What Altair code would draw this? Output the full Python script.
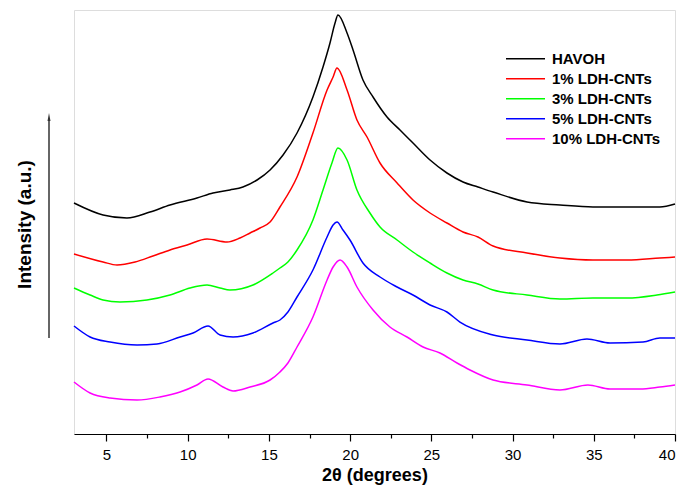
import altair as alt
import pandas as pd

series_names = ["HAVOH", "1% LDH-CNTs", "3% LDH-CNTs", "5% LDH-CNTs", "10% LDH-CNTs"]
series_colors = ["#000000", "#ff0000", "#00ff00", "#0000ff", "#ff00ff"]

havoh_2theta = [3.00, 4.79, 6.26, 7.68, 8.91, 10.57, 11.56, 12.60, 13.40, 14.27, 15.07, 15.87,
                16.73, 17.71, 18.33, 18.76, 19.07, 19.25, 19.81, 20.18, 20.79, 21.41, 22.27,
                23.07, 23.87, 24.92, 25.96, 26.95, 27.87, 28.80, 30.89, 32.92, 34.95, 37.05,
                39.07, 40.00]
havoh_intensity = [231, 219, 216, 222, 229, 236, 241, 244, 247, 254, 264, 279,
                   301, 337, 367, 391, 411, 419, 401, 384, 354, 337, 317,
                   304, 291, 274, 261, 252, 247, 242, 232, 229, 227, 227,
                   227, 230]

ldh1_2theta = [3.00, 4.79, 5.65, 6.76, 7.86, 8.91, 9.96, 11.19, 12.42, 13.22, 13.84, 14.45,
               15.07, 15.68, 16.73, 17.71, 18.58, 18.95, 19.19, 19.81, 20.42, 21.04, 21.84,
               22.89, 23.87, 24.92, 25.96, 26.95, 27.87, 28.80, 30.89, 32.92, 34.95, 37.05,
               39.07, 40.00]
ldh1_intensity = [180, 172, 169, 172, 178, 184, 189, 195, 192, 196, 201, 206,
                  212, 227, 257, 301, 344, 357, 366, 344, 314, 297, 271,
                  251, 234, 221, 211, 202, 197, 188, 181, 176, 174, 174,
                  176, 177]

ldh3_2theta = [3.00, 3.99, 4.79, 5.83, 7.49, 8.91, 10.14, 11.19, 11.99, 12.60, 14.02, 15.25,
               15.68, 16.17, 16.73, 17.71, 18.33, 18.88, 19.25, 19.81, 20.42, 21.22, 21.84,
               22.89, 23.87, 24.92, 25.96, 26.95, 27.87, 28.80, 30.89, 32.92, 34.95, 37.05,
               38.89, 40.00]
ldh3_intensity = [146, 139, 134, 132, 134, 139, 146, 149, 146, 144, 149, 161,
                  166, 172, 184, 214, 244, 271, 286, 274, 244, 221, 207,
                  194, 182, 171, 161, 154, 150, 144, 139, 135, 136, 136,
                  139, 142]

ldh5_2theta = [3.00, 3.99, 5.22, 6.88, 8.11, 9.53, 10.33, 11.25, 11.99, 12.79, 14.02, 15.25,
               15.68, 16.17, 16.73, 17.71, 18.58, 18.95, 19.19, 19.56, 19.99, 20.79, 21.84,
               22.89, 23.87, 24.92, 25.96, 26.76, 28.80, 30.89, 32.92, 34.58, 36.00, 38.03,
               39.07, 40.00]
ldh5_intensity = [108, 97, 92, 89, 90, 97, 101, 108, 99, 97, 101, 111,
                  114, 122, 137, 164, 197, 209, 212, 204, 194, 171, 157,
                  147, 139, 129, 122, 112, 99, 94, 90, 95, 91, 92,
                  96, 96]

ldh10_2theta = [3.00, 3.99, 5.22, 6.88, 8.29, 9.53, 10.57, 11.25, 12.17, 12.79, 13.84, 15.07,
                15.68, 16.17, 16.73, 17.71, 18.58, 18.95, 19.38, 19.81, 20.42, 21.41, 22.45,
                23.50, 24.49, 25.53, 26.58, 27.38, 28.80, 30.89, 32.92, 34.64, 36.00, 37.85,
                39.07, 40.00]
ldh10_intensity = [52, 41, 36, 34, 37, 42, 49, 55, 47, 43, 47, 54,
                   62, 71, 87, 117, 154, 167, 174, 167, 147, 124, 107,
                   97, 87, 81, 71, 64, 54, 49, 44, 49, 45, 45,
                   47, 49]

x_tick_values = [5, 7.5, 10, 12.5, 15, 17.5, 20, 22.5, 25, 27.5, 30, 32.5, 35, 37.5, 40]

all_x = [havoh_2theta, ldh1_2theta, ldh3_2theta, ldh5_2theta, ldh10_2theta]
all_y = [havoh_intensity, ldh1_intensity, ldh3_intensity, ldh5_intensity, ldh10_intensity]

rows = []
for name, xs, ys in zip(series_names, all_x, all_y):
    for xv, yv in zip(xs, ys):
        rows.append({"series": name, "two_theta": xv, "intensity": yv})
df = pd.DataFrame(rows)

FONT = "Liberation Sans"
PLOT_H = 424

x_enc = alt.X(
    "two_theta:Q",
    scale=alt.Scale(domain=[3, 40], nice=False, zero=False),
    axis=alt.Axis(
        values=x_tick_values, title="2θ (degrees)", grid=False,
        labelExpr="datum.value % 5 === 0 ? datum.label : ''",
        labelFont=FONT, labelFontSize=15, labelColor="#000000", labelPadding=6,
        labelFlush=False,
        labelAlign={"condition": {"test": "datum.value === 40", "value": "right"}, "value": "center"},
        tickSize={"condition": {"test": "datum.value % 5 === 0", "value": 7}, "value": 4},
        tickColor="#000000", tickWidth=1.2,
        domainColor="#000000", domainWidth=1.2,
        titleFont=FONT, titleFontSize=18, titleFontWeight="bold", titleColor="#000000",
        titleY=46, titleBaseline="alphabetic",
    ),
)

lines = alt.Chart(df).mark_line(strokeWidth=1.5, interpolate="monotone").encode(
    x=x_enc,
    y=alt.Y(
        "intensity:Q",
        scale=alt.Scale(domain=[0, PLOT_H], nice=False, zero=False),
        axis=alt.Axis(
            title="Intensity (a.u.)", labels=False, ticks=False, domain=False, grid=False,
            titleFont=FONT, titleFontSize=19, titleFontWeight="bold", titleColor="#000000",
            titleX=-50, titleY=214, titleAngle=270, titleAlign="center", titleBaseline="middle",
        ),
    ),
    color=alt.Color(
        "series:N",
        scale=alt.Scale(domain=series_names, range=series_colors),
        legend=alt.Legend(
            title=None, orient="none", legendX=431, legendY=39,
            symbolType="stroke", symbolSize=1521, symbolStrokeWidth=1.5,
            clipHeight=19.5, rowPadding=0, padding=0,
            labelFont=FONT, labelFontSize=15, labelFontWeight="bold", labelColor="#000000",
            labelOffset=6,
        ),
    ),
)

one = pd.DataFrame({"k": [0]})
arrow_shaft = alt.Chart(one).mark_rule(color="#333333", strokeWidth=1.5).encode(
    x=alt.value(-25), y=alt.value(110), y2=alt.value(328)
)
arrow_head = alt.Chart(one).mark_point(
    shape="M0,-1L0.375,1L-0.375,1Z", filled=True, size=64, color="#333333", opacity=1
).encode(x=alt.value(-25), y=alt.value(107))

chart = alt.layer(lines, arrow_shaft, arrow_head).properties(
    width=601, height=PLOT_H,
    padding={"left": 66, "top": 2, "right": 2, "bottom": 52},
    autosize=alt.AutoSizeParams(type="none"),
).configure_view(stroke="transparent", strokeWidth=0).configure(background="white")

chart.save("out.html", embed_options={"renderer": "svg", "actions": False})
